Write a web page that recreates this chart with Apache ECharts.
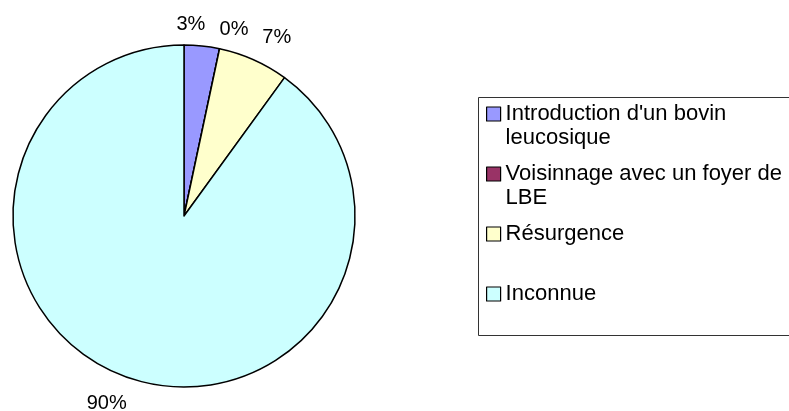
<!DOCTYPE html>
<html>
<head>
<meta charset="utf-8">
<script src="https://cdn.jsdelivr.net/npm/echarts@6/dist/echarts.min.js"></script>
<style>
  html, body { margin: 0; padding: 0; background: #fff; }
  #main { width: 789px; height: 411px; }
</style>
</head>
<body>
<div id="main"></div>
<script>
// origine des foyers (parts, base 30)
const categories = ['Introduction d\'un bovin leucosique', 'Voisinnage avec un foyer de LBE', 'Résurgence', 'Inconnue']
const legendLines = [
  ['Introduction d\'un bovin', 'leucosique'],
  ['Voisinnage avec un foyer de', 'LBE'],
  ['Résurgence', ''],
  ['Inconnue', '']
]
const values = [1, 0, 2, 27]
const colors = ['#9999FF', '#993366', '#FFFFCC', '#CCFFFF']

const font = 'Liberation Sans, Arial, sans-serif'
const chart = echarts.init(document.getElementById('main'))

// petits décalages des étiquettes, comme Excel les place
const labelNudge = [[-33, 2], [-10, 4], [-6, 0], [8, 2]]

const option = {
  animation: false,
  color: colors,
  legend: {
    orient: 'vertical',
    left: 486,
    top: 78,
    padding: 0,
    itemGap: -12,
    itemWidth: 14,
    itemHeight: 14,
    icon: 'rect',
    itemStyle: { borderColor: '#000', borderWidth: 1.2 },
    textStyle: { fontFamily: font, fontSize: 22, lineHeight: 24, color: '#000' },
    // ligne vide au-dessus pour que le carré soit en face de la 1re ligne
    formatter: name => {
      const l = legendLines[categories.indexOf(name)]
      return '\n' + l[0] + '\n' + l[1]
    },
    data: categories
  },
  graphic: [{
    type: 'rect',
    shape: { x: 478.5, y: 97.5, width: 400, height: 238 },
    style: { fill: 'none', stroke: '#333', lineWidth: 1 },
    silent: true
  }],
  series: [{
    type: 'pie',
    center: [184, 216],
    radius: 171,
    startAngle: 90,
    clockwise: true,
    avoidLabelOverlap: false,
    minShowLabelAngle: 0,
    stillShowZeroSum: true,
    itemStyle: { borderColor: '#000', borderWidth: 1.5 },
    label: {
      show: true,
      position: 'outside',
      fontFamily: font,
      fontSize: 20,
      color: '#000',
      formatter: p => Math.round(p.percent) + '%'
    },
    labelLine: { show: false, length: 24, length2: 0 },
    labelLayout: p => ({
      hideOverlap: false,
      moveOverlap: false,
      dx: labelNudge[p.dataIndex][0],
      dy: labelNudge[p.dataIndex][1]
    }),
    emphasis: { disabled: true },
    data: categories.map((c, i) => ({ name: c, value: values[i] }))
  }]
}

chart.setOption(option)
</script>
</body>
</html>
